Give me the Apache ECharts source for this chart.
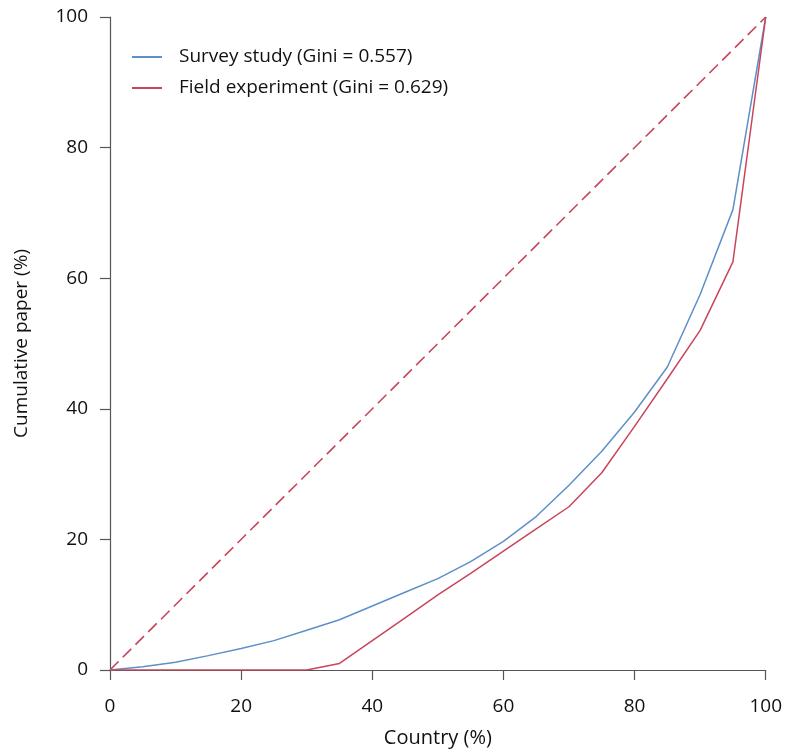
<!DOCTYPE html>
<html>
<head>
<meta charset="utf-8">
<script src="https://cdn.jsdelivr.net/npm/echarts@6/dist/echarts.min.js"></script>
<style>html,body{margin:0;padding:0;background:#fff}#c{width:785px;height:753px}</style>
</head>
<body>
<div id="c"></div>
<script>
const countryPct = [0, 5, 10, 15, 20, 25, 30, 35, 40, 45, 50, 55, 60, 65, 70, 75, 80, 85, 90, 95, 100];
const surveyStudy = [0, 0.5, 1.2, 2.2, 3.3, 4.5, 6.1, 7.7, 9.8, 11.9, 14.0, 16.6, 19.7, 23.5, 28.3, 33.5, 39.5, 46.4, 57.5, 70.5, 100];
const fieldExperiment = [0, 0, 0, 0, 0, 0, 0, 1.0, 4.5, 8.0, 11.5, 14.8, 18.2, 21.6, 25.0, 30.2, 37.3, 44.6, 52.0, 62.5, 100];
const equalityX = [0, 100];
const equalityY = [0, 100];
const seriesNames = ['Survey study (Gini = 0.557)', 'Field experiment (Gini = 0.629)'];
const xTicks = [0, 20, 40, 60, 80, 100];
const yTicks = [0, 20, 40, 60, 80, 100];

const BLUE = '#5d8fc9', RED = '#c8455a', TXT = '#111';
const FONT = 'Open Sans';
const pairs = (xs, ys) => xs.map((x, i) => [x, ys[i]]);

const chart = echarts.init(document.getElementById('c'), null, {renderer: 'canvas'});
chart.setOption({
  backgroundColor: '#fff',
  animation: false,
  grid: {left: 110, right: 18, top: 17, bottom: 81, containLabel: false},
  legend: {
    show: true, orient: 'vertical', left: 127, top: 41,
    itemWidth: 30, itemHeight: 2, itemGap: 9, icon: 'rect',
    data: seriesNames,
    textStyle: {fontFamily: FONT, fontSize: 19, color: TXT, lineHeight: 22, padding: [0, 0, 0, 12]}
  },
  xAxis: {
    type: 'value', min: 0, max: 100, interval: 20, offset: 5,
    name: 'Country (%)', nameLocation: 'middle', nameGap: 53,
    nameTextStyle: {fontFamily: FONT, fontSize: 20, color: TXT},
    axisLine: {show: true, lineStyle: {color: '#555', width: 1.2}},
    axisTick: {show: true, length: 10, lineStyle: {color: '#555', width: 1.2}},
    axisLabel: {fontFamily: FONT, fontSize: 19, color: TXT, margin: 22,
      formatter: v => xTicks.includes(v) ? String(v) : ''},
    splitLine: {show: false}
  },
  yAxis: {
    type: 'value', min: 0, max: 100, interval: 20, offset: 5,
    name: 'Cumulative paper (%)', nameLocation: 'middle', nameGap: 74,
    nameTextStyle: {fontFamily: FONT, fontSize: 19, color: TXT},
    axisLine: {show: true, lineStyle: {color: '#555', width: 1.2}},
    axisTick: {show: true, length: 10, lineStyle: {color: '#555', width: 1.2}},
    axisLabel: {fontFamily: FONT, fontSize: 19, color: TXT, margin: 17,
      formatter: v => yTicks.includes(v) ? String(v) : ''},
    splitLine: {show: false}
  },
  series: [
    {name: seriesNames[0], type: 'line', data: pairs(countryPct, surveyStudy),
     symbol: 'none', smooth: false, lineStyle: {color: BLUE, width: 1.5}, itemStyle: {color: BLUE}, z: 3},
    {name: seriesNames[1], type: 'line', data: pairs(countryPct, fieldExperiment),
     symbol: 'none', smooth: false, lineStyle: {color: RED, width: 1.5}, itemStyle: {color: RED}, z: 3},
    {name: 'Equality', type: 'line', data: pairs(equalityX, equalityY),
     symbol: 'none', lineStyle: {color: RED, width: 1.6, type: [12, 6]}, itemStyle: {color: RED}, z: 2}
  ]
});
</script>
</body>
</html>
